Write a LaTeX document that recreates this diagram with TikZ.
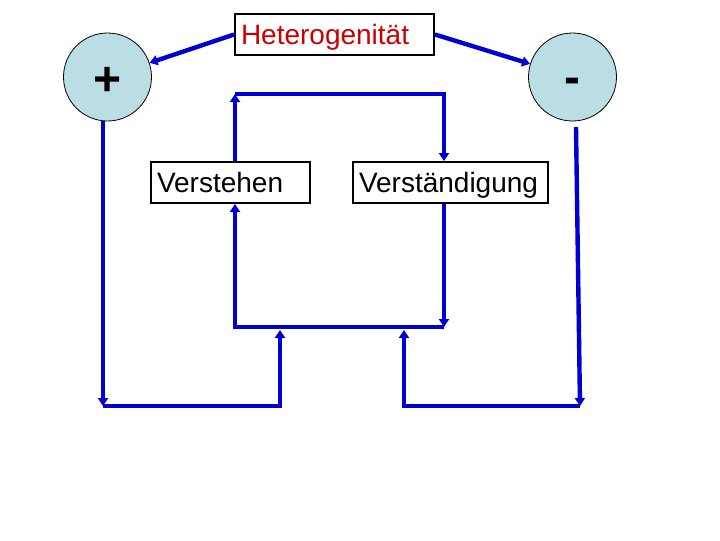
\documentclass[tikz,border=0pt]{standalone}
\usepackage{fontspec}
\setmainfont{Liberation Sans}
\usetikzlibrary{arrows.meta}
\definecolor{lblue}{RGB}{0,0,210}
\definecolor{cfill}{RGB}{187,222,228}
\definecolor{hred}{RGB}{204,0,0}
\tikzset{
  txtbox/.style={draw=black, line width=1.5pt, minimum height=30.75pt, inner xsep=4.5pt, inner ysep=0pt, text height=15pt, text depth=0pt, align=left, font=\fontsize{21}{25}\selectfont},
  signcircle/.style={circle, draw=black, line width=0.6pt, fill=cfill, minimum size=66pt, inner sep=0pt, text depth=0pt, font=\fontsize{36}{40}\selectfont\bfseries},
  arr/.style={draw=lblue, line width=3.3pt, -{Triangle[length=6pt,width=7.5pt]}},
}
\begin{document}
\begin{tikzpicture}[x=0.75pt, y=-0.75pt]
\useasboundingbox (0,0) rectangle (720,540);
% nodes
\node[txtbox, text width=140.25pt, text=hred] (het) at (334.5,34.5) {Heterogenität};
\node[txtbox, text width=110.25pt] (ver) at (230.5,182.5) {Verstehen};
\node[txtbox, text width=137.25pt] (vst) at (450.5,182.5) {Verständigung};
\node[signcircle, text height=27pt] (plus) at (107.5,77) {+};
\node[signcircle, text height=24.7pt] (minus) at (572.5,77) {-};
% corner coordinates
\coordinate (tl) at (235,94);
\coordinate (tr) at (444,94);
\coordinate (br) at (444,327);
\coordinate (bl) at (235,327);
\coordinate (lb) at (103,406);
\coordinate (lm) at (280,406);
\coordinate (lmt) at (280,330);
\coordinate (rt) at (576,127);
\coordinate (rb) at (580,406);
\coordinate (rm) at (404,406);
\coordinate (rmt) at (404,330);
% connectors
\draw[arr] (het.west) -- (plus);
\draw[arr] (het.east) -- (minus);
\draw[arr] (ver.north -| tl) -- (tl);
\draw[arr] (tl) -- (tr) -- (vst.north -| tr);
\draw[arr] (vst.south -| br) -- (br);
\draw[arr] (br) -- (bl) -- (ver.south -| bl);
\draw[arr] (plus.south -| lb) -- (lb);
\draw[arr] (lb) -- (lm) -- (lmt);
\draw[arr] (rt) -- (rb);
\draw[arr] (rb) -- (rm) -- (rmt);
\end{tikzpicture}
\end{document}
